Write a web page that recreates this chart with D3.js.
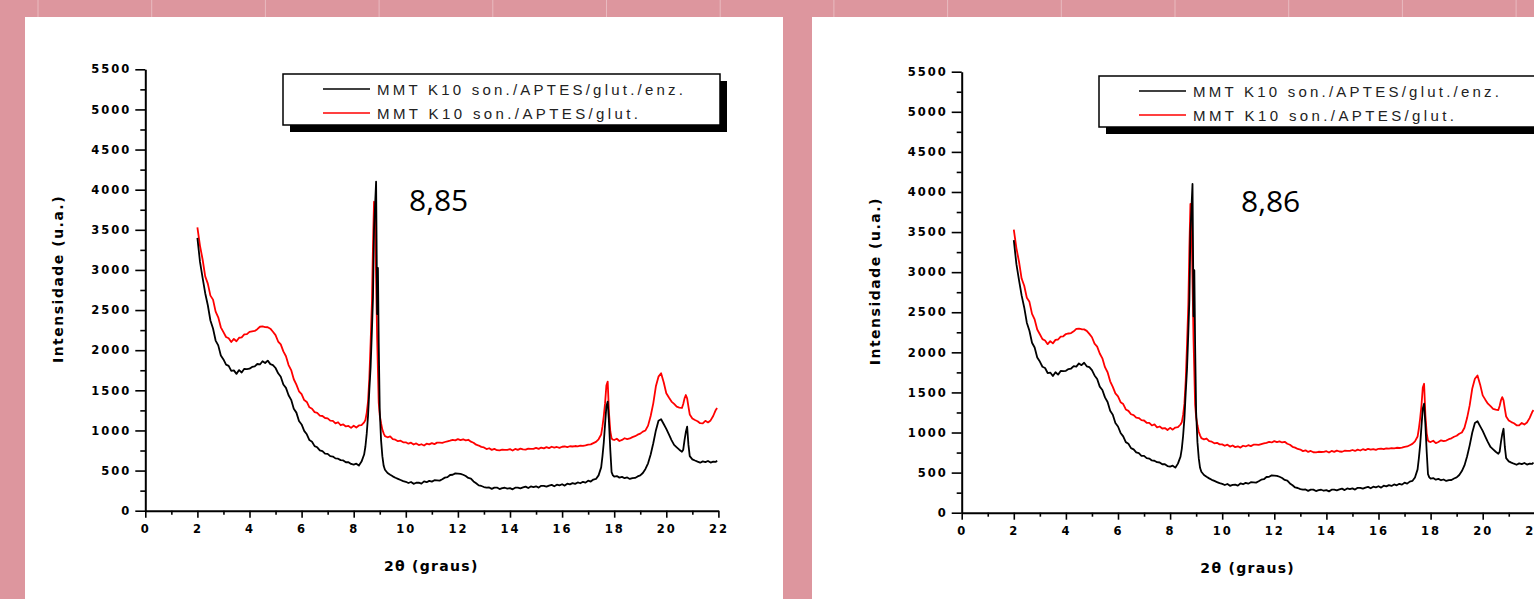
<!DOCTYPE html>
<html><head><meta charset="utf-8">
<script src="https://cdn.jsdelivr.net/npm/d3@7"></script>
<style>body{margin:0;background:#DD969E;overflow:hidden}svg{display:block}</style>
</head><body><svg id="c" width="1534" height="599"></svg>
<script>
// 2θ angles (degrees)
const twoTheta = [
2.0,2.1,2.2,2.3,2.4,2.5,2.6,2.7,2.8,2.9,
3.0,3.1,3.2,3.3,3.4,3.5,3.6,3.7,3.8,3.9,
4.0,4.1,4.2,4.3,4.4,4.5,4.6,4.7,4.8,4.9,
5.0,5.1,5.2,5.3,5.4,5.5,5.6,5.7,5.8,5.9,
6.0,6.1,6.2,6.3,6.4,6.5,6.6,6.7,6.8,6.9,
7.0,7.1,7.2,7.3,7.4,7.5,7.6,7.7,7.8,7.9,
8.0,8.1,8.2,8.3,8.4,
8.45,8.5,8.55,8.6,8.65,8.7,8.74,8.78,8.82,8.86,8.9,8.93,8.96,9.0,9.05,9.1,9.15,9.2,
9.3,9.4,9.5,9.6,9.7,9.8,9.9,
10.0,10.1,10.2,10.3,10.4,10.5,10.6,10.7,10.8,10.9,
11.0,11.1,11.2,11.3,11.4,11.5,11.6,11.7,11.8,11.9,
12.0,12.1,12.2,12.3,12.4,12.5,12.6,12.7,12.8,12.9,
13.0,13.1,13.2,13.3,13.4,13.5,13.6,13.7,13.8,13.9,
14.0,14.1,14.2,14.3,14.4,14.5,14.6,14.7,14.8,14.9,
15.0,15.1,15.2,15.3,15.4,15.5,15.6,15.7,15.8,15.9,
16.0,16.1,16.2,16.3,16.4,16.5,16.6,16.7,16.8,16.9,
17.0,17.1,17.2,17.3,17.4,
17.5,17.55,17.6,17.65,17.7,17.75,17.8,17.85,17.9,17.95,
18.0,18.1,18.2,18.3,18.4,18.5,18.6,18.7,18.8,18.9,
19.0,19.1,19.2,19.3,19.4,19.5,19.6,19.7,19.8,19.9,
20.0,20.1,20.2,20.3,20.4,20.5,20.6,
20.65,20.7,20.75,20.8,20.85,20.9,
21.0,21.1,21.2,21.3,21.4,21.5,21.6,21.7,21.8,21.9,
21.95
];
// MMT K10 son./APTES/glut./enz. (black)
const intensityEnz = [
3400,3100,2900,2710,2560,2370,2270,2120,2060,1935,
1885,1820,1805,1742,1748,1705,1752,1722,1768,1765,
1770,1792,1798,1828,1822,1862,1840,1870,1826,1815,
1778,1712,1668,1572,1531,1438,1381,1270,1222,1118,
1075,995,952,880,860,805,790,752,742,710,
708,680,675,652,648,630,626,604,605,582,
575,586,562,612,700,
800,960,1180,1500,1794,2250,2650,3500,3800,4100,2450,3025,2100,1250,880,680,560,510,
470,448,428,410,396,382,368,
360,345,358,335,348,350,338,365,355,372,
362,380,378,375,392,412,418,445,448,465,
463,460,448,432,408,400,365,342,315,308,
295,288,290,272,287,288,270,282,286,274,
281,266,287,288,278,290,300,282,302,293,
304,288,310,310,300,313,322,304,324,316,
330,313,337,328,344,334,352,342,360,350,
374,363,388,396,440,
540,680,850,1080,1300,1360,1100,760,480,440,
426,432,412,422,405,414,396,407,408,427,
440,470,520,590,700,840,1000,1120,1140,1080,
1020,950,880,820,790,760,735,
760,880,980,1047,820,680,
640,625,611,598,615,605,620,600,612,608,
625
];
// MMT K10 son./APTES/glut. (red)
const intensityGlut = [
3530,3300,3130,2920,2830,2680,2630,2480,2410,2285,
2225,2165,2148,2102,2140,2112,2155,2160,2196,2200,
2228,2235,2240,2262,2292,2296,2288,2286,2268,2230,
2188,2108,2072,1985,1925,1815,1752,1638,1570,1488,
1452,1378,1355,1288,1270,1228,1218,1186,1180,1155,
1150,1122,1120,1088,1102,1065,1075,1050,1056,1032,
1058,1036,1062,1066,1100,
1130,1220,1360,1650,2100,2600,3300,3850,3650,2900,2150,1750,1350,1190,1090,1010,965,930,
915,925,892,885,866,872,852,
852,835,848,825,838,818,828,812,835,826,
842,830,848,848,845,856,865,872,882,876,
892,880,890,876,884,860,847,822,812,795,
788,768,778,758,770,754,752,760,757,758,
767,750,770,758,774,763,760,773,770,770,
782,770,787,776,792,780,797,786,794,783,
797,800,792,803,800,806,802,810,807,813,
822,826,842,858,890,
950,1050,1180,1340,1560,1608,1217,990,900,885,
881,897,868,882,903,892,900,917,928,947,
960,985,1000,1060,1180,1338,1550,1670,1712,1600,
1463,1410,1360,1330,1296,1285,1280,
1330,1400,1442,1400,1296,1200,
1150,1130,1115,1090,1089,1120,1100,1125,1180,1255,
1280
];
const seriesNames = ["MMT K10 son./APTES/glut./enz.", "MMT K10 son./APTES/glut."];
const seriesColors = ["#000000", "#ff0000"];
const xTicks = [0,2,4,6,8,10,12,14,16,18,20,22];
const xMinorTicks = [1,3,5,7,9,11,13,15,17,19,21];
const yTicks = [0,500,1000,1500,2000,2500,3000,3500,4000,4500,5000,5500];
const yMinorTicks = [250,750,1250,1750,2250,2750,3250,3750,4250,4750,5250];
const peakLabels = ["8,85", "8,86"];
const xTitle = "2θ (graus)";
const yTitle = "Intensidade (u.a.)";

const svg = d3.select("#c");
// top strip faint grid
for (let i = 0; i < 14; i++) {
  const xx = 38 + 113.7 * i;
  svg.append("line").attr("x1", xx).attr("x2", xx).attr("y1", 0).attr("y2", 17)
    .attr("stroke", "rgba(255,255,255,0.35)").attr("stroke-width", 1);
}

const panels = [
  {px:25, py:17, pw:758, axisX:145.3, y0:510.7, yTop:69.3, xLen:573.1, legX:283, legY:74, annX:409, annY:211},
  {px:812, py:17, pw:760, axisX:961.7, y0:512.7, yTop:71.7, xLen:573.1, legX:1099, legY:76, annX:1241, annY:212}
];

const tickFont = "DejaVu Sans, sans-serif";

panels.forEach((p, pi) => {
  const g = svg.append("g");
  g.append("rect").attr("x", p.px).attr("y", p.py).attr("width", p.pw).attr("height", 599 - p.py).attr("fill", "#fff");

  const x = d3.scaleLinear().domain([0, 22]).range([p.axisX, p.axisX + p.xLen]);
  const y = d3.scaleLinear().domain([0, 5500]).range([p.y0, p.yTop]);

  // X axis
  g.append("g").attr("transform", `translate(0,${p.y0})`)
    .call(d3.axisBottom(x).tickValues(xTicks).tickSize(7).tickSizeOuter(0).tickPadding(7).tickFormat(d3.format("d")));
  g.append("g").attr("transform", `translate(0,${p.y0})`)
    .call(d3.axisBottom(x).tickValues(xMinorTicks).tickSize(4).tickSizeOuter(0).tickFormat(""))
    .call(s => s.select(".domain").remove());
  // Y axis
  g.append("g").attr("transform", `translate(${p.axisX},0)`)
    .call(d3.axisLeft(y).tickValues(yTicks).tickSize(10).tickSizeOuter(0).tickPadding(4).tickFormat(d3.format("d")));
  g.append("g").attr("transform", `translate(${p.axisX},0)`)
    .call(d3.axisLeft(y).tickValues(yMinorTicks).tickSize(5).tickSizeOuter(0).tickFormat(""))
    .call(s => s.select(".domain").remove());

  g.selectAll(".domain").attr("stroke", "#000").attr("stroke-width", 2);
  g.selectAll(".tick line").attr("stroke", "#000").attr("stroke-width", 1.6);
  g.selectAll(".tick text").attr("font-family", tickFont).attr("font-weight", "bold")
    .attr("font-size", 11.5).attr("fill", "#000").style("letter-spacing", "2px");

  // titles
  g.append("text").attr("x", p.axisX + 286).attr("y", p.y0 + 60)
    .attr("text-anchor", "middle").attr("font-family", tickFont).attr("font-weight", "bold")
    .attr("font-size", 14).style("letter-spacing", "1.3px").text(xTitle);
  g.append("text").attr("transform", `translate(${p.axisX - 82},${(p.y0 + p.yTop) / 2 - 11}) rotate(-90)`)
    .attr("text-anchor", "middle").attr("font-family", tickFont).attr("font-weight", "bold")
    .attr("font-size", 14).style("letter-spacing", "1.5px").text(yTitle);

  // curves
  const line = d3.line().x(d => x(d[0])).y(d => y(d[1]));
  const series = [intensityEnz, intensityGlut];
  [1, 0].forEach(si => {
    const data = twoTheta.map((t, i) => [t, series[si][i]]);
    g.append("path").datum(data).attr("d", line).attr("fill", "none")
      .attr("stroke", seriesColors[si]).attr("stroke-width", 1.8).attr("stroke-linejoin", "round");
  });

  // legend
  const lw = 437, lh = 51;
  g.append("rect").attr("x", p.legX + 7).attr("y", p.legY + 7).attr("width", lw).attr("height", lh).attr("fill", "#000");
  g.append("rect").attr("x", p.legX).attr("y", p.legY).attr("width", lw).attr("height", lh)
    .attr("fill", "#fff").attr("stroke", "#000").attr("stroke-width", 1.5);
  const textLens = [306, 261];
  seriesNames.forEach((name, i) => {
    const cy = p.legY + 15 + i * 24;
    g.append("line").attr("x1", p.legX + 40).attr("x2", p.legX + 87).attr("y1", cy).attr("y2", cy)
      .attr("stroke", seriesColors[i]).attr("stroke-width", 1.5);
    g.append("text").attr("x", p.legX + 94).attr("y", cy + 6)
      .attr("font-family", "Liberation Sans, Arial, sans-serif").attr("font-size", 15)
      .attr("fill", "#222").attr("textLength", textLens[i]).attr("lengthAdjust", "spacing").text(name);
  });

  // annotation
  g.append("text").attr("x", p.annX).attr("y", p.annY)
    .attr("font-family", "Open Sans, sans-serif").attr("font-size", 30).attr("fill", "#000")
    .text(peakLabels[pi]);
});
</script></body></html>
